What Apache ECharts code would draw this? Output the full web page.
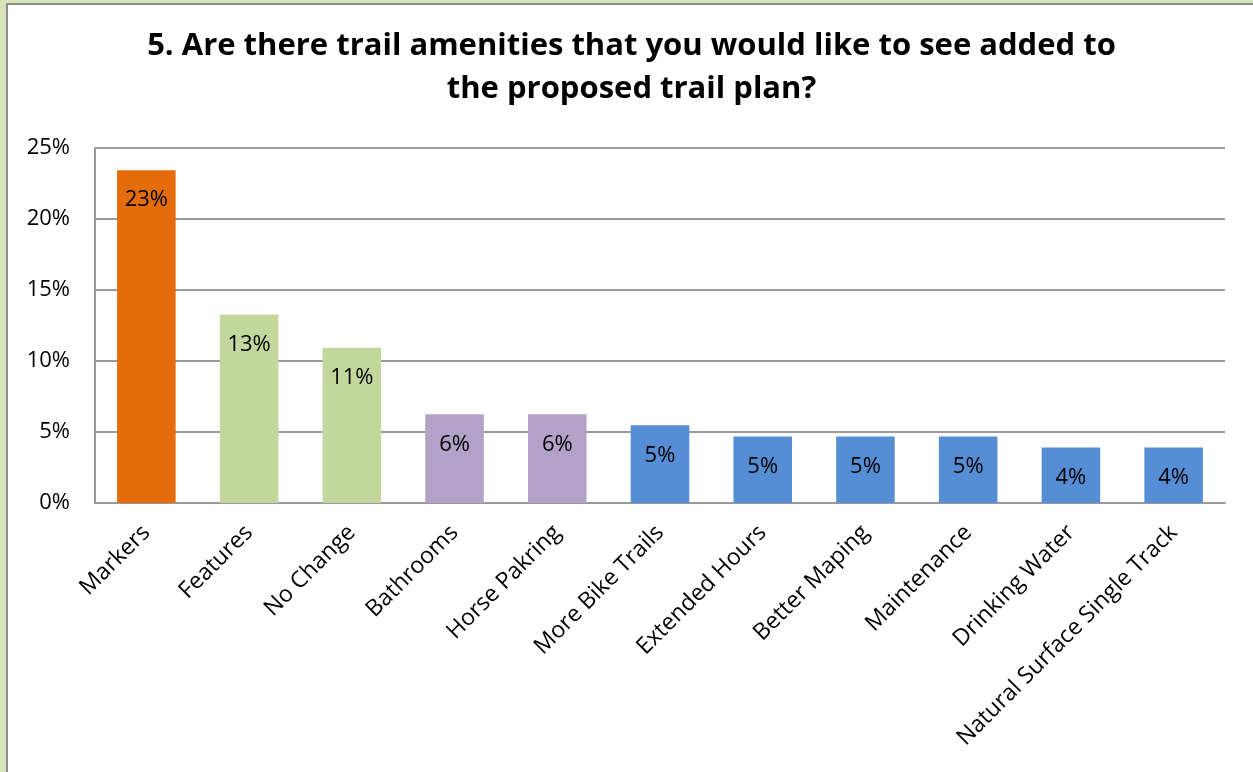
<!DOCTYPE html>
<html><head><meta charset="utf-8">
<script src="https://cdn.jsdelivr.net/npm/echarts@6/dist/echarts.min.js"></script>
<style>
html,body{margin:0;padding:0;width:1253px;height:772px;overflow:hidden;background:#d8e4bc;}
#frame{position:absolute;left:6px;top:3px;width:1260px;height:780px;border-left:2px solid #8c8c8c;border-top:2px solid #8c8c8c;background:#fff;}
#chart{position:absolute;left:0;top:0;width:1247px;height:769px;}
</style></head>
<body><div id="frame"><div id="chart"></div></div>
<script>
const titleText = '5. Are there trail amenities that you would like to see added to\nthe proposed trail plan?';
const categories = ['Markers','Features','No Change','Bathrooms','Horse Pakring','More Bike Trails','Extended Hours','Better Maping','Maintenance','Drinking Water','Natural Surface Single Track'];
const values = [23.44, 13.28, 10.94, 6.25, 6.25, 5.47, 4.69, 4.69, 4.69, 3.91, 3.91];
const barColors = ['#E46C0A','#C3D69B','#C3D69B','#B2A2C7','#B2A2C7','#558ED5','#558ED5','#558ED5','#558ED5','#558ED5','#558ED5'];
const yTicks = {min:0, max:25, interval:5};

const FONT = 'Open Sans';
const chart = echarts.init(document.getElementById('chart'), null, {renderer:'canvas'});
chart.setOption({
  animation:false,
  backgroundColor:'#fff',
  title:{text:titleText,left:'center',top:15,
    textStyle:{fontFamily:FONT,fontWeight:'bold',fontSize:31,color:'#000',lineHeight:43}},
  grid:{left:87,top:143,width:1130,height:355,containLabel:false},
  xAxis:{type:'category',data:categories,
    axisLine:{lineStyle:{color:'#9a9a9a',width:2}},
    axisTick:{show:false},
    axisLabel:{rotate:45,interval:0,margin:26,fontFamily:FONT,fontSize:23,color:'#000'}},
  yAxis:{type:'value',min:yTicks.min,max:yTicks.max,interval:yTicks.interval,
    axisLine:{show:true,lineStyle:{color:'#9a9a9a',width:2}},
    axisTick:{show:false},
    splitLine:{lineStyle:{color:'#9a9a9a',width:2}},
    axisLabel:{formatter:'{value}%',margin:25,fontFamily:FONT,fontSize:22,color:'#000'}},
  series:[{type:'bar',barWidth:'57%',
    data:values.map((v,i)=>({value:v,itemStyle:{color:barColors[i]}})),
    label:{show:true,position:'insideTop',distance:19,fontFamily:FONT,fontSize:22,color:'#000',
      formatter:p=>Math.round(p.value)+'%'}}]
});
</script></body></html>
